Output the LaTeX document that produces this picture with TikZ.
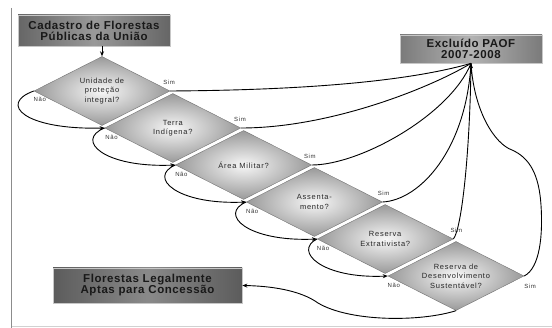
\documentclass[tikz,border=0pt]{standalone}
\usepackage{fontspec}
\setmainfont{Liberation Sans}
\newfontfamily\boxfont[LetterSpace=5]{Liberation Sans}
\newfontfamily\diafont[LetterSpace=10]{Liberation Sans}
\usetikzlibrary{shapes.geometric,arrows.meta,calc}
\begin{document}
\begin{tikzpicture}[x=1pt,y=-1pt,
  dia/.style={diamond, shape aspect=2, minimum width=136pt, minimum height=69pt,
    inner sep=0pt, draw=black!55, line width=0.4pt, inner color=black!3, outer color=black!40,
    font=\diafont\fontsize{7.5}{9.5}\selectfont, align=center, text=black!85},
  box/.style={rectangle, draw=black!22, line width=0.7pt, inner sep=0pt,
    left color=black!60, right color=black!60, middle color=black!40,
    font=\boxfont\bfseries\fontsize{11.5}{11}\selectfont, align=center, text=black!90},
  lbl/.style={font=\diafont\fontsize{6}{6}\selectfont, inner sep=0pt, text=black!80},
  wire/.style={line width=0.9pt, black},
  arr/.style={wire, -{Stealth[length=5pt,width=4pt]}}
]
\useasboundingbox (0,0) rectangle (552,328);
% frame lines
\draw[black!45, line width=1.3pt] (11.5,8) -- (11.5,328);
\draw[black!18, line width=0.5pt] (11.5,326.5) -- (552,326.5);

% boxes
\node[box, minimum width=152pt, minimum height=31pt] (cad) at (94,30.5) {Cadastro de Florestas\\Públicas da União};
\node[box, minimum width=142pt, minimum height=28pt, left color=black!52, right color=black!52, middle color=black!30] (exc) at (471,49) {Excluído PAOF\\2007-2008};
\node[box, minimum width=189pt, minimum height=35pt, left color=black!64, right color=black!64, middle color=black!46] (flo) at (147.5,285.5) {Florestas Legalmente\\Aptas para Concessão};

% diamonds
\node[dia] (d1) at (102,91) {Unidade de\\proteção\\integral?};
\node[dia] (d2) at (172.8,128) {Terra\\Indígena?};
\node[dia] (d3) at (243.6,165) {Área Militar?};
\node[dia] (d4) at (314.4,202) {Assenta-\\mento?};
\node[dia] (d5) at (385.2,239) {Reserva\\Extrativista?};
\node[dia] (d6) at (456,276) {Reserva de\\Desenvolvimento\\Sustentável?};

% entry arrow
\draw[arr] (cad.south -| d1.north) -- (d1.north);

% Sim lines
\coordinate (J) at (471,74);
\draw[wire] (d1.east) .. controls (330,90) and (420,78) .. (exc.south);
\draw[wire] (d2.east) .. controls (330,128) and (430,88) .. (exc.south);
\draw[wire] (d3.east) .. controls (360,165) and (450,115) .. (exc.south);
\draw[wire] (d4.east) .. controls (420,200) and (466,150) .. (exc.south);
\draw[wire] (d5.east) .. controls (462,228) and (470,150) .. (exc.south);
\draw[wire] (d6.east) .. controls (540,268) and (543,235) .. (541,205)
   .. controls (539,175) and (530,158) .. (512,150)
   .. controls (495,144) and (474,112) .. (exc.south);
\draw[arr] (J) -- (exc.south);

% Nao loops
\draw[arr] (d1.west) .. controls +(-36,13) and +(-80,2) .. (d2.west);
\draw[arr] (d2.west) .. controls +(-30,12) and +(-72,3) .. (d3.west);
\draw[arr] (d3.west) .. controls +(-28,12) and +(-70,3) .. (d4.west);
\draw[arr] (d4.west) .. controls +(-28,12) and +(-70,3) .. (d5.west);
\draw[arr] (d5.west) .. controls +(-24,12) and +(-66,3) .. (d6.west);

% exit to Florestas
\draw[arr] (d6.south) .. controls (420,322) and (350,322) .. (318,303)
   .. controls (300,290) and (270,286) .. (flo.east);

% labels
\node[lbl] (s1) at ($(d1.east)+(-1,-9)$) {Sim};
\node[lbl] (s2) at ($(d2.east)+(-1,-9)$) {Sim};
\node[lbl] (s3) at ($(d3.east)+(-2,-9)$) {Sim};
\node[lbl] (s4) at ($(d4.east)+(1,-9)$) {Sim};
\node[lbl] (s5) at ($(d5.east)+(3,-9)$) {Sim};
\node[lbl] (s6) at ($(d6.east)+(6,10)$) {Sim};
\node[lbl] (n1) at ($(d1.west)+(6,8)$) {Não};
\node[lbl] (n2) at ($(d2.west)+(7,9)$) {Não};
\node[lbl] (n3) at ($(d3.west)+(6,9)$) {Não};
\node[lbl] (n4) at ($(d4.west)+(6,9)$) {Não};
\node[lbl] (n5) at ($(d5.west)+(6,9)$) {Não};
\node[lbl] (n6) at ($(d6.west)+(6,9)$) {Não};
\end{tikzpicture}
\end{document}
